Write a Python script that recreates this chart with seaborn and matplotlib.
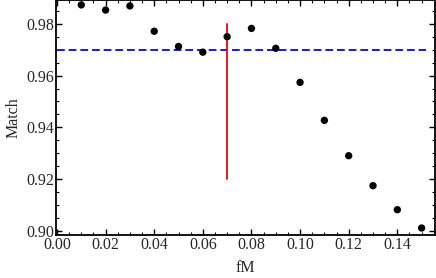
import numpy as np
import pandas as pd
import matplotlib
matplotlib.use("Agg")
import matplotlib.pyplot as plt
import seaborn as sns
from matplotlib.ticker import MultipleLocator

# data
fm = [0.01, 0.02, 0.03, 0.04, 0.05, 0.06, 0.07, 0.08, 0.09, 0.10, 0.11, 0.12, 0.13, 0.14, 0.15]
match = [0.9874, 0.9854, 0.9870, 0.9772, 0.9713, 0.9691, 0.9751, 0.9783, 0.9706,
         0.9574, 0.9427, 0.9290, 0.9174, 0.9081, 0.9010]
threshold = 0.97
threshold_x = [0.0, 0.152]
fm_mark = 0.07
fm_mark_y = [0.92, 0.98]

df = pd.DataFrame({"fM": fm, "Match": match})

sns.set_style("ticks")
plt.rcParams['font.family'] = ['Liberation Serif', 'DejaVu Serif']

fig = plt.figure(figsize=(4.36, 2.78), dpi=100)
ax = fig.add_axes([56 / 436, 1 - 235 / 278, 379 / 436, 235 / 278])

ax.hlines(threshold, threshold_x[0], threshold_x[1], colors="#1a1adc",
          linestyles=(0, (4, 2)), linewidth=1.4, zorder=2)
ax.plot([fm_mark, fm_mark], fm_mark_y, color="#e81818", linewidth=1.4, zorder=2)
sns.scatterplot(data=df, x="fM", y="Match", color="black", s=28, edgecolor="none",
                ax=ax, zorder=3)

ax.set_xlim(-0.0004, 0.1555)
ax.set_ylim(0.8983, 0.9893)
ax.xaxis.set_major_locator(MultipleLocator(0.02))
ax.xaxis.set_minor_locator(MultipleLocator(0.005))
ax.yaxis.set_major_locator(MultipleLocator(0.02))
ax.yaxis.set_minor_locator(MultipleLocator(0.005))
ax.xaxis.set_major_formatter(plt.FuncFormatter(lambda v, p: f"{v:.2f}"))
ax.yaxis.set_major_formatter(plt.FuncFormatter(lambda v, p: f"{v:.2f}"))

ax.tick_params(which="both", direction="in", top=True, right=True, color="black",
               labelsize=11.5, pad=1.5)
ax.tick_params(which="major", length=4, width=1)
ax.tick_params(which="minor", length=2, width=0.8)
for s in ax.spines.values():
    s.set_linewidth(1.3)
    s.set_color("black")

ax.set_xlabel("fM", fontsize=11.5, labelpad=5)
ax.set_ylabel("Match", fontsize=11.5, labelpad=3)

fig.savefig("out.png", dpi=100)
